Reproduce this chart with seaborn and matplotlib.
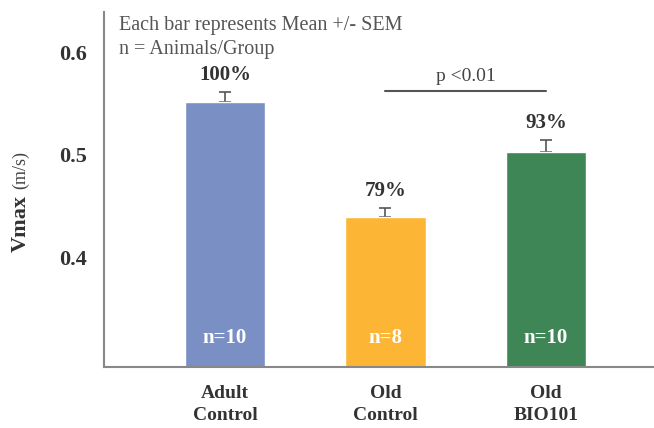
import numpy as np
import pandas as pd
import matplotlib
matplotlib.use("Agg")
import matplotlib.pyplot as plt
import seaborn as sns

groups = ["Adult\nControl", "Old\nControl", "Old\nBIO101"]
vmax = [0.551, 0.439, 0.503]
sem = [0.010, 0.009, 0.011]
pct_labels = ["100%", "79%", "93%"]
n_animals = [10, 8, 10]
bar_colors = ["#7a8fc4", "#fdb536", "#3f8656"]

sns.set_style("white")
plt.rcParams["font.family"] = ["Liberation Serif", "DejaVu Serif"]

df = pd.DataFrame({"group": groups, "vmax": vmax})

fig = plt.figure(figsize=(6.54, 4.28), dpi=100)
ax = fig.add_axes([0.159, 0.1425, 0.841, 0.8295])

sns.barplot(data=df, x="group", y="vmax", hue="group", palette=bar_colors,
            width=0.5, saturation=1, legend=False, ax=ax, zorder=2)

# SEM, upper half only (lower cap hides behind the bar)
xpos = np.arange(len(groups))
ax.errorbar(xpos, vmax, yerr=[np.zeros(len(sem)), sem], fmt="none",
            ecolor="#555555", elinewidth=1.2, capsize=4, capthick=1.2, zorder=1)

txt = "#333333"
for i in range(len(groups)):
    ax.text(xpos[i], vmax[i] + sem[i] + 0.017, pct_labels[i], ha="center", va="center",
            fontsize=15, fontweight="bold", color=txt)
    ax.text(xpos[i], 0.321, "n=%d" % n_animals[i], ha="center", va="center",
            fontsize=15, fontweight="bold", color="white", zorder=3)

# significance bar between the old groups
ax.plot([1, 2], [0.562, 0.562], color="#555555", lw=1.5)
ax.text(1.5, 0.576, "p <0.01", ha="center", va="center", fontsize=14, color="#444444")

ax.text(-0.66, 0.626, "Each bar represents Mean +/- SEM", fontsize=14.5, color="#555555",
        ha="left", va="center")
ax.text(-0.66, 0.602, "n = Animals/Group", fontsize=14.5, color="#555555",
        ha="left", va="center")

ax.set_xlim(-0.754, 2.673)
ax.set_ylim(0.293, 0.639)
ax.set_yticks([0.4, 0.5, 0.6])
ax.set_yticklabels(["0.4", "0.5", "0.6"], fontsize=16, fontweight="bold", color=txt)
ax.set_xticks(xpos)
ax.set_xticklabels(groups, fontsize=14, fontweight="bold", color=txt, linespacing=1.4)
ax.tick_params(axis="y", direction="in", length=3, color="#777777", pad=12)
ax.tick_params(axis="x", length=0, pad=13)
ax.set_xlabel("")
ax.set_ylabel("")

for s in ["top", "right"]:
    ax.spines[s].set_visible(False)
for s in ["left", "bottom"]:
    ax.spines[s].set_color("#888888")
    ax.spines[s].set_linewidth(1.5)

fig.text(0.031, 1 - 224 / 428, "Vmax", rotation=90, ha="center", va="center",
         fontsize=16, fontweight="bold", color=txt)
fig.text(0.031, 1 - 170 / 428, "(m/s)", rotation=90, ha="center", va="center",
         fontsize=13, color="#444444")

fig.savefig("out.png", dpi=100)
